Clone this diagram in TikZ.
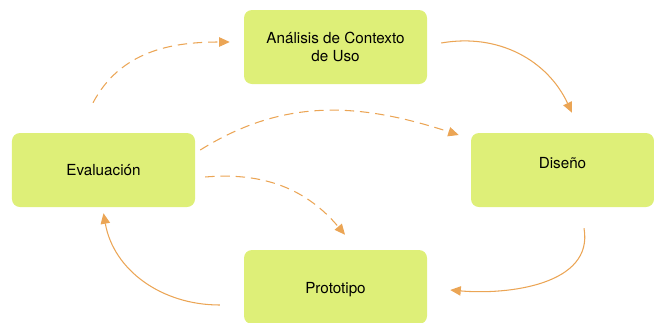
\documentclass[tikz,border=0pt]{standalone}
\usepackage{fontspec}
\setmainfont{TeX Gyre Heros}
\usepackage{tikz}
\usetikzlibrary{arrows.meta}
\definecolor{cajaverde}{RGB}{222,239,120}
\definecolor{naranja}{RGB}{235,165,85}
\tikzstyle{flecha} = [draw=naranja, line width=0.9pt, -{Triangle[length=9pt,width=8pt]}]
\tikzstyle{discont} = [flecha, dash pattern=on 8pt off 5pt]
\tikzstyle{etapa} = [rectangle, rounded corners=0.24cm,
minimum width=5.49cm,
minimum height=2.22cm,
text centered,
align=center,
font=\fontsize{13}{15.5}\selectfont,
fill=cajaverde]

\begin{document}
\begin{tikzpicture}[x=0.03cm, y=0.03cm]
            \useasboundingbox (0,0) rectangle (654,322);
            \node (ana) [etapa] at (335.5,275) {Análisis de Contexto\\de Uso};
            \node (eva) [etapa] at (103.5,152) {Evaluación};
            \node (dis) [etapa, text height=9.5pt, text depth=12pt] at (562.5,152) {Diseño};
            \node (pro) [etapa, text height=14.4pt, text depth=2.7pt] at (335.5,35)  {Prototipo};

            \draw [flecha ] ([shift={(14,4)}]ana.east)    to[out=10, in=115]  ([shift={(9.5,20)}]dis.north);
            \draw [flecha ] ([shift={(21.5,-21)}]dis.south) to[out=-80, in=-5] ([shift={(23,-3)}]pro.east);
            \draw [flecha ] ([shift={(-24,-18)}]pro.west)  to[out=180, in=-80] ([shift={(0,-6)}]eva.south);
            \draw [discont] ([shift={(-10.5,30)}]eva.north) to[out=62, in=180] ([shift={(-14,5)}]ana.west);

            \draw [discont] ([shift={(5,20)}]eva.east)  to[out=32, in=162]  ([shift={(-12,35)}]dis.west);
            \draw [discont] ([shift={(10,-7)}]eva.east) to[out=5, in=130]   ([shift={(9.5,15)}]pro.north);
        \end{tikzpicture}
\end{document}
